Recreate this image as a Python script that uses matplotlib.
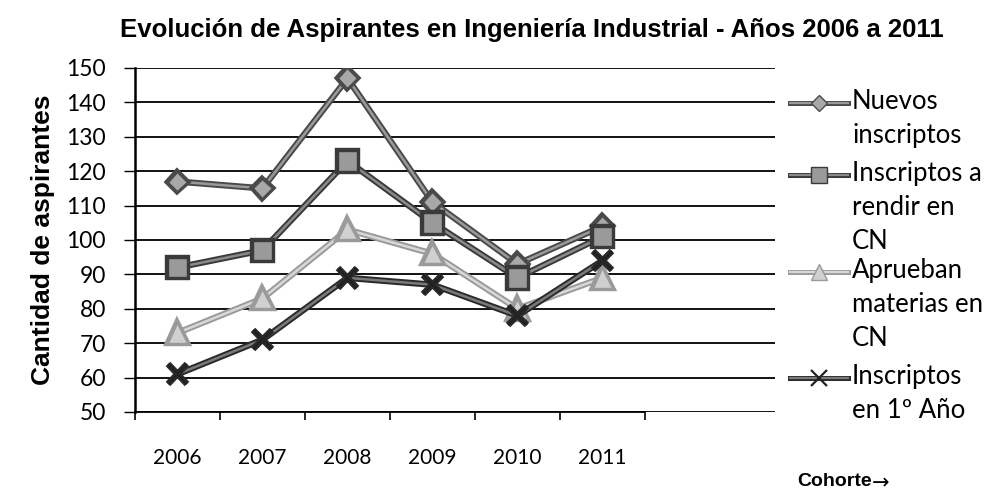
import matplotlib
matplotlib.use("Agg")
import matplotlib.pyplot as plt
import matplotlib.patheffects as pe
from matplotlib.lines import Line2D

# Cohortes y series
cohortes = ["2006", "2007", "2008", "2009", "2010", "2011"]
nuevos_inscriptos = [117, 115, 147, 111, 93, 104]
inscriptos_rendir_cn = [92, 97, 123, 105, 89, 101]
aprueban_materias_cn = [73, 83, 103, 96, 80, 89]
inscriptos_primer_anio = [61, 71, 89, 87, 78, 94]

y_ticks = list(range(50, 151, 10))

series = [
    dict(values=nuevos_inscriptos, label="Nuevos\ninscriptos", marker="D", ms=10,
         mfc="#a8a8a8", mec="#4a4a4a", outer="#4a4a4a", inner="#9a9a9a"),
    dict(values=inscriptos_rendir_cn, label="Inscriptos a\nrendir en\nCN", marker="s", ms=14,
         mfc="#9a9a9a", mec="#3a3a3a", outer="#3a3a3a", inner="#8a8a8a"),
    dict(values=aprueban_materias_cn, label="Aprueban\nmaterias en\nCN", marker="^", ms=14,
         mfc="#d0d0d0", mec="#9a9a9a", outer="#9a9a9a", inner="#d8d8d8"),
    dict(values=inscriptos_primer_anio, label="Inscriptos\nen 1º Año", marker="x", ms=14,
         mfc="#222222", mec="#222222", outer="#2a2a2a", inner="#7a7a7a"),
]

fig = plt.figure(figsize=(9.92, 4.96), dpi=100)
ax = fig.add_axes([135 / 992, 84 / 496, 640 / 992, 344 / 496])

x = list(range(len(cohortes)))
for s in series:
    ax.plot(x, s["values"], color=s["inner"], lw=1.8,
            marker=s["marker"], ms=s["ms"], mfc=s["mfc"], mec=s["mec"],
            mew=1.6 if s["marker"] == "x" else 1.0, zorder=3,
            path_effects=[pe.Stroke(linewidth=4.6, foreground=s["outer"]), pe.Normal()])

ax.set_ylim(50, 150)
ax.set_xlim(-0.5, 7.03)
ax.set_yticks(y_ticks)
ax.set_yticklabels([str(v) for v in y_ticks], fontfamily="Lato", fontsize=16.5)
ax.yaxis.grid(True, color="black", lw=1.3)
ax.set_axisbelow(True)

ax.set_xticks([i - 0.5 for i in range(len(cohortes) + 1)])
ax.set_xticklabels([])
ax.tick_params(axis="x", direction="out", length=6, width=1.2, color="black")
ax.tick_params(axis="y", direction="out", length=8, width=1.0, color="black", pad=13)
for i, c in enumerate(cohortes):
    ax.text(i, -0.135, c, transform=ax.get_xaxis_transform(), ha="center", va="center",
            fontfamily="Lato", fontsize=15)

ax.spines["top"].set_visible(False)
ax.spines["right"].set_visible(False)
ax.spines["left"].set_linewidth(1.8)
ax.spines["bottom"].set_linewidth(1.3)
ax.spines["bottom"].set_bounds(-0.5, 5.5)

ax.set_ylabel("Cantidad de aspirantes", fontfamily="Liberation Sans", fontweight="bold",
              fontsize=19, labelpad=8)

fig.text(532 / 992, 1 - 30 / 496, "Evolución de Aspirantes en Ingeniería Industrial - Años 2006 a 2011",
         ha="center", va="center", fontfamily="Liberation Sans", fontweight="bold", fontsize=18.5)
fig.text(797 / 992, 1 - 482 / 496, "Cohorte", ha="left", va="center",
         fontfamily="Liberation Sans", fontweight="bold", fontsize=14)
fig.text(872 / 992, 1 - 483 / 496, "\u2192", ha="left", va="center",
         fontfamily="DejaVu Sans", fontsize=15)

# Leyenda dibujada a mano: el símbolo queda alineado con la primera línea del texto
legend_rows = [103, 175, 272, 378]
for s, row in zip(series, legend_rows):
    yf = 1 - row / 496
    line = Line2D([790 / 992, 848 / 992], [yf, yf], transform=fig.transFigure,
                  color=s["inner"], lw=1.6,
                  path_effects=[pe.Stroke(linewidth=3.6, foreground=s["outer"]), pe.Normal()])
    fig.add_artist(line)
    mk = Line2D([819 / 992], [yf], transform=fig.transFigure, marker=s["marker"],
                ms=s["ms"] * 0.85, mfc=s["mfc"], mec=s["mec"],
                mew=1.6 if s["marker"] == "x" else 1.0, ls="none")
    fig.add_artist(mk)
    fig.text(852 / 992, yf + 14 / 496, s["label"], ha="left", va="top", fontfamily="Lato",
             fontsize=18.5, linespacing=1.45)

fig.savefig("out.png", dpi=100)
